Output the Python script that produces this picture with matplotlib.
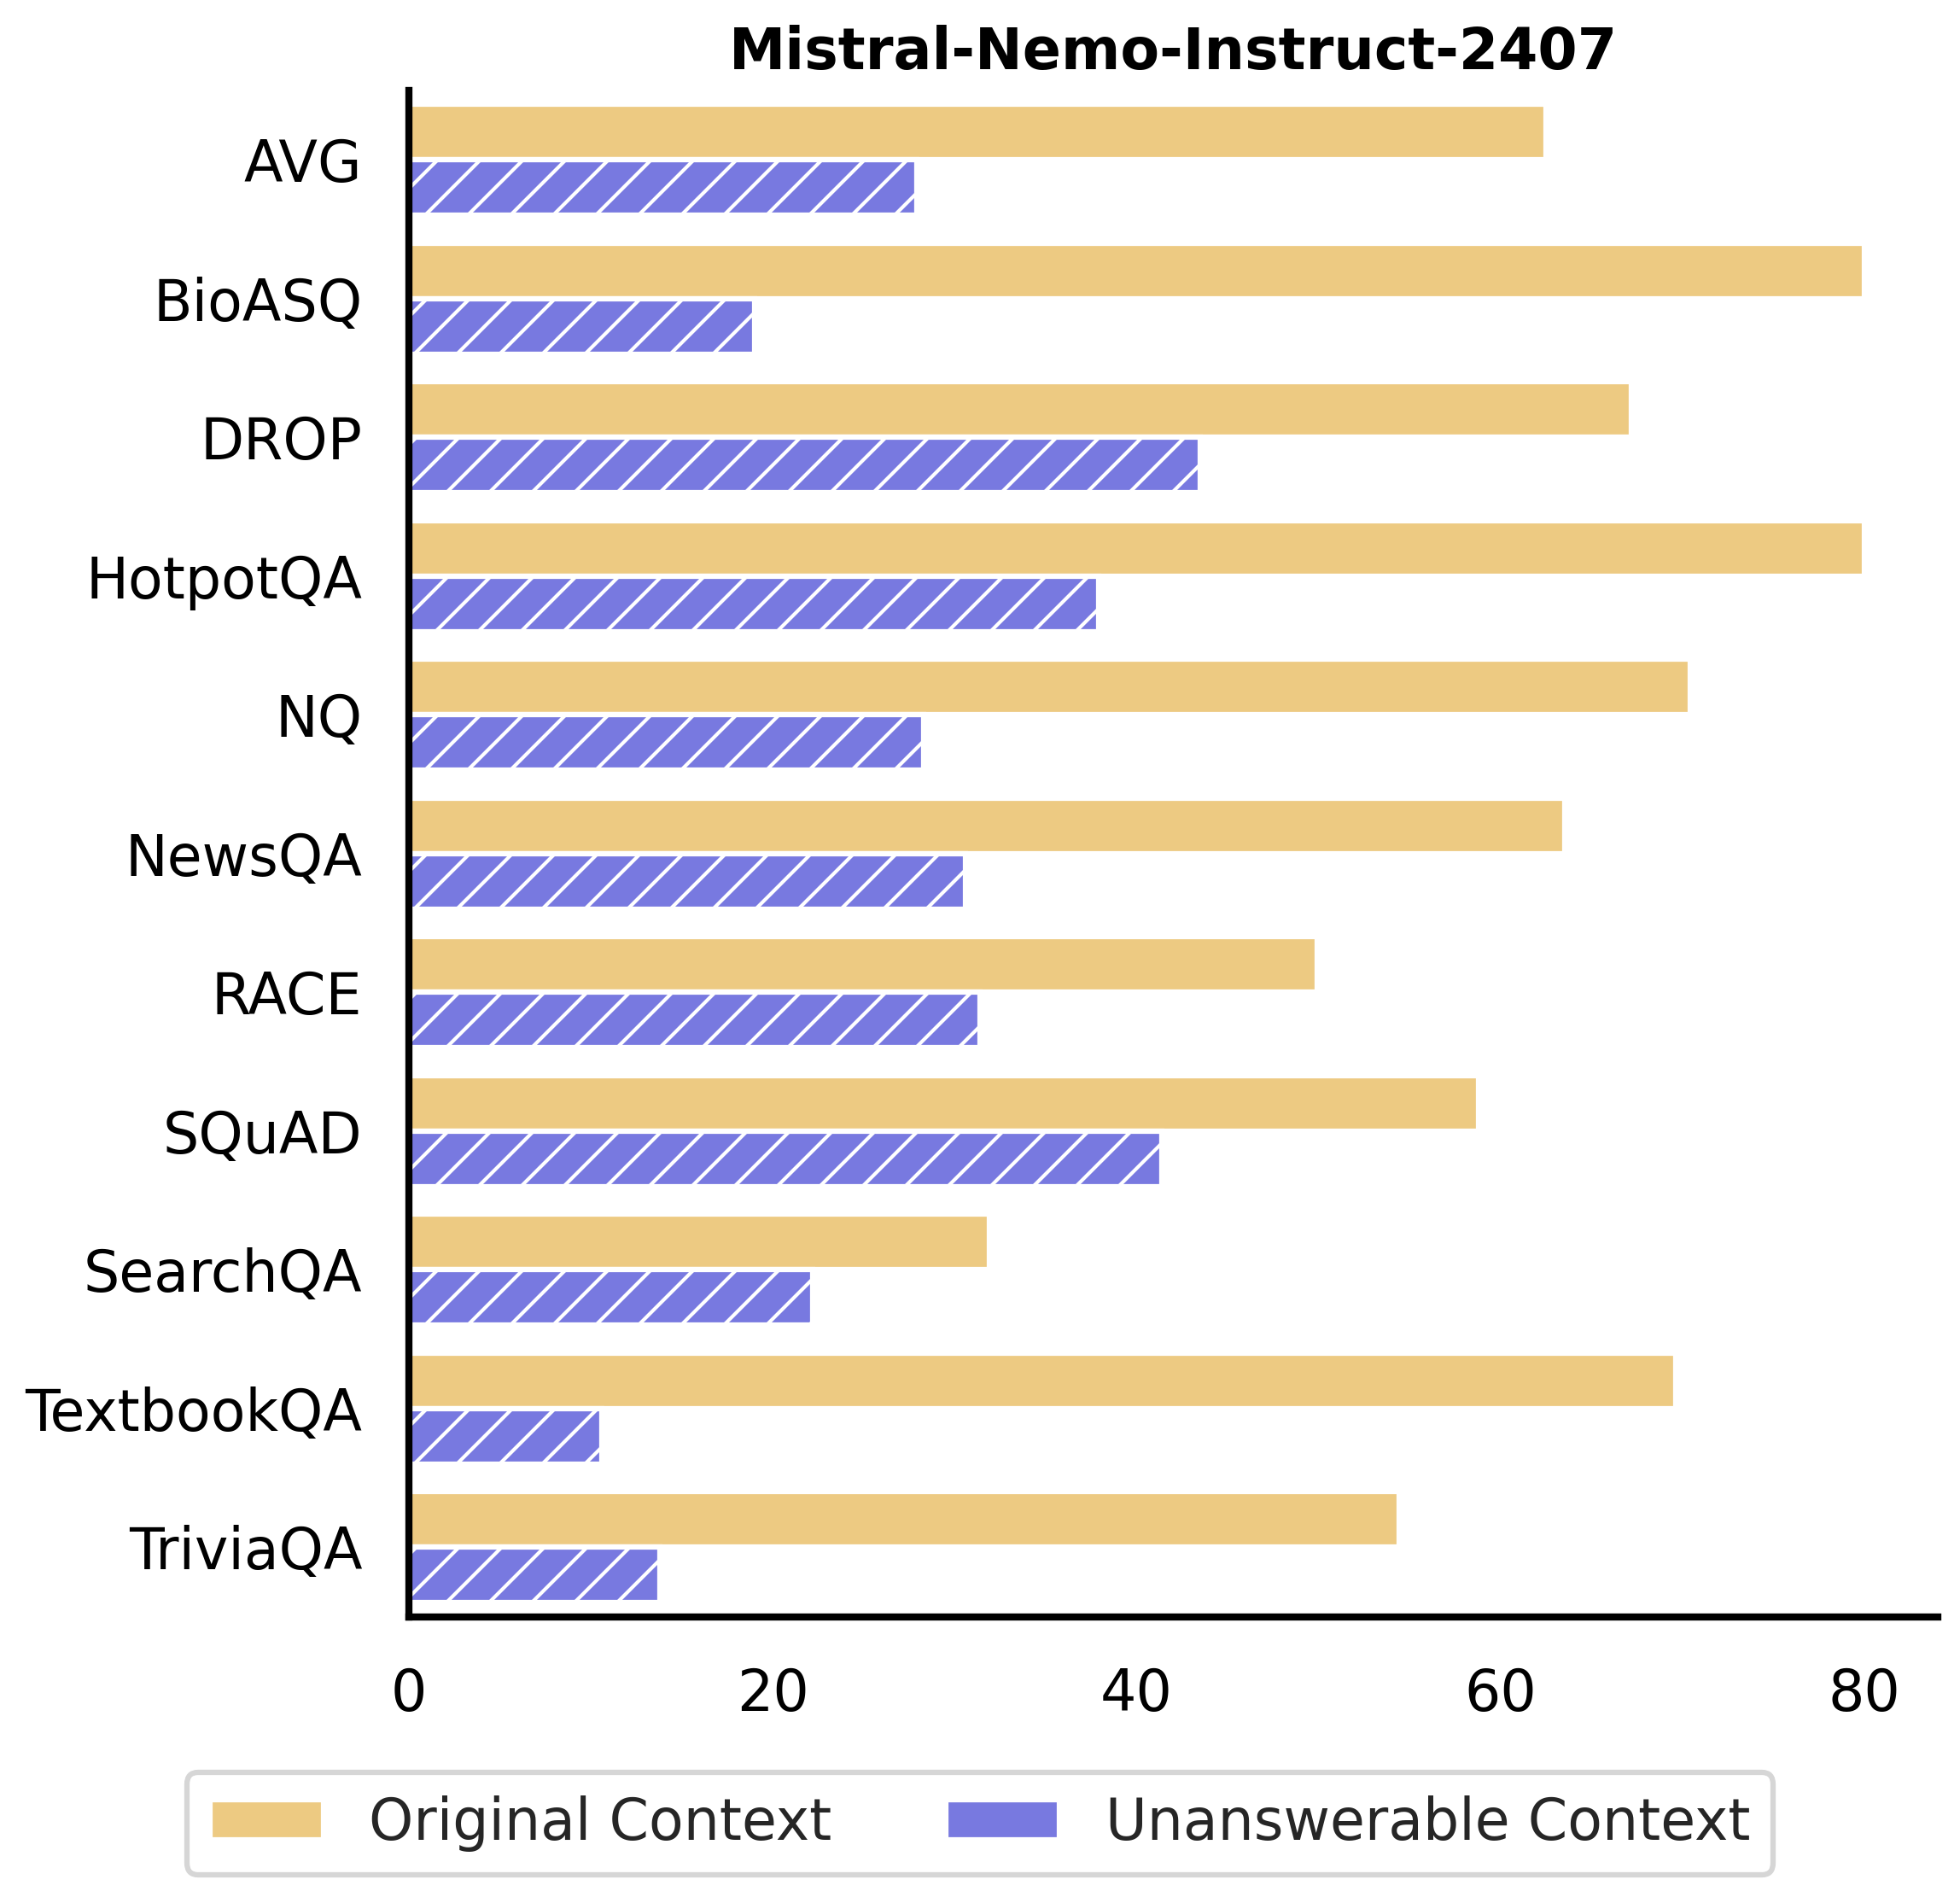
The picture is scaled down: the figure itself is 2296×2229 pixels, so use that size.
import numpy as np
import matplotlib
matplotlib.use("Agg")
import matplotlib.pyplot as plt
from matplotlib.patches import Patch

# Data
datasets = ["AVG", "BioASQ", "DROP", "HotpotQA", "NQ", "NewsQA", "RACE",
            "SQuAD", "SearchQA", "TextbookQA", "TriviaQA"]
original_context = [62.5, 80.0, 67.2, 80.0, 70.4, 63.5, 49.9, 58.8, 31.9, 69.6, 54.4]
unanswerable_context = [27.9, 19.0, 43.5, 37.9, 28.3, 30.6, 31.4, 41.4, 22.2, 10.6, 13.8]

title = "Mistral-Nemo-Instruct-2407"
labels = ["Original Context", "Unanswerable Context"]
colors = ["#EDCA82", "#7879E0"]

plt.rcParams['font.family'] = ['DejaVu Sans']

fig = plt.figure(figsize=(2296 / 300, 2229 / 300), dpi=300)
ax = fig.add_axes([0.2085, 0.1505, 0.78, 0.802])

y = np.arange(len(datasets))
h = 0.4

# Two bars per dataset, the second one hatched
ax.barh(y - h / 2, original_context, height=h, color=colors[0],
        edgecolor="white", linewidth=1.5)
ax.barh(y + h / 2, unanswerable_context, height=h, color=colors[1],
        edgecolor="white", linewidth=1.5, hatch="//")

ax.set_yticks(y)
ax.set_yticklabels(datasets)
ax.set_ylim(len(datasets) - 0.5, -0.5)
ax.set_xlim(0, 84)
ax.set_xticks([0, 20, 40, 60, 80])

ax.tick_params(axis="both", labelsize=16, length=0, colors="black")
ax.tick_params(axis="x", pad=14)
ax.tick_params(axis="y", pad=13)

for side in ["top", "right"]:
    ax.spines[side].set_visible(False)
for side in ["left", "bottom"]:
    ax.spines[side].set_linewidth(2)
    ax.spines[side].set_color("black")

ax.set_title(title, fontsize=16, fontweight="bold", pad=6)

# Legend below the plot, plain colour patches
handles = [Patch(facecolor=c, edgecolor="white", linewidth=1.5) for c in colors]
leg = fig.legend(handles, labels, loc="lower center", ncol=2, fontsize=16,
                 bbox_to_anchor=(0.5, 0.0), frameon=True, fancybox=True)
leg.get_frame().set_edgecolor("0.8")
leg.get_frame().set_linewidth(1.5)
for t in leg.get_texts():
    t.set_color("#262626")

fig.savefig("out.png", dpi=300)
